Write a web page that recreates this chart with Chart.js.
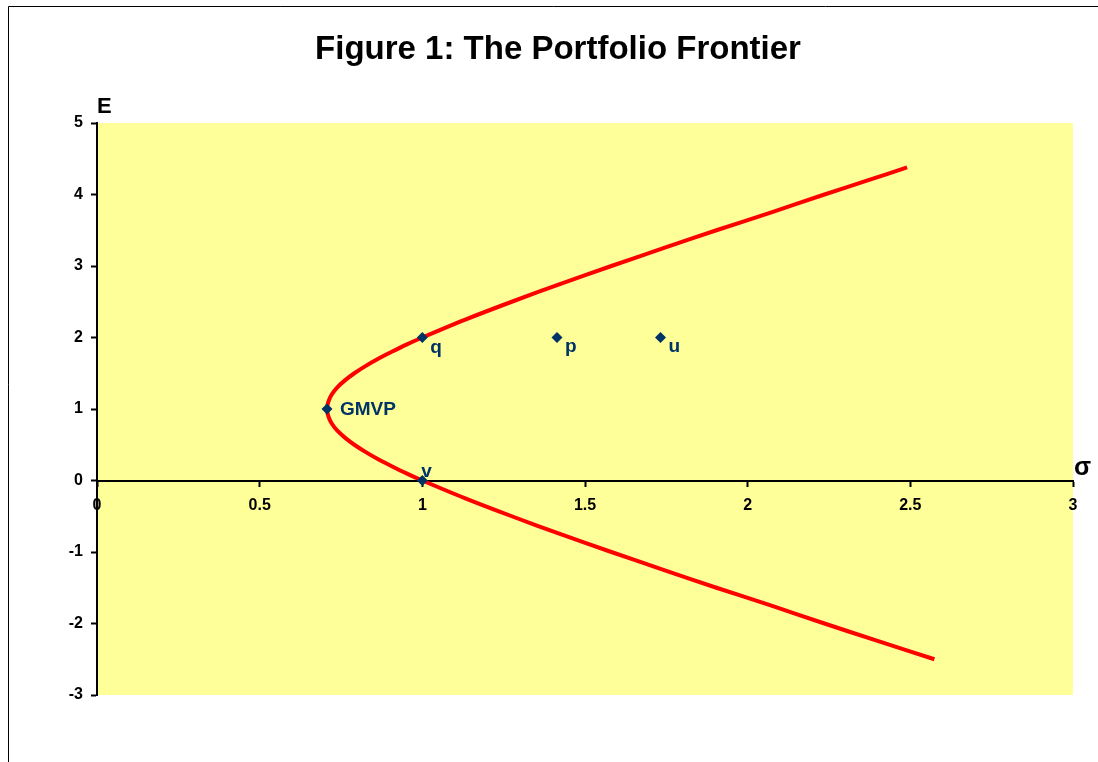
<!DOCTYPE html>
<html>
<head>
<meta charset="utf-8">
<title>The Portfolio Frontier</title>
<script src="https://cdn.jsdelivr.net/npm/chart.js@4.4.0/dist/chart.umd.min.js"></script>
<style>
    html, body { margin: 0; padding: 0; background: #ffffff; }
    #wrap { width: 1098px; height: 762px; }
</style>
</head>
<body>
<div id="wrap"><canvas id="frontierChart" width="1098" height="762"></canvas></div>
<script>
// Frontier curve, top end to bottom end
const frontierE = [
    4.38, 4.2, 4.0, 3.75, 3.5, 3.25, 3.0, 2.75, 2.5, 2.25, 2.0, 1.9, 1.8, 1.7, 1.6, 1.5, 1.4, 1.3, 1.2, 1.1, 1.0,
    0.9, 0.8, 0.7, 0.6, 0.5, 0.4, 0.3, 0.2, 0.1, 0.0, -0.25, -0.5, -0.75, -1.0, -1.25, -1.5, -1.75, -2.0, -2.25, -2.5
];
const frontierSigma = [
    2.490, 2.371, 2.236, 2.073, 1.904, 1.741, 1.581, 1.425, 1.275, 1.132, 1.000, 0.951, 0.906, 0.863, 0.825, 0.791, 0.762, 0.738, 0.721, 0.711, 0.707,
    0.711, 0.721, 0.738, 0.762, 0.791, 0.825, 0.863, 0.906, 0.951, 1.000, 1.132, 1.275, 1.425, 1.581, 1.741, 1.904, 2.073, 2.236, 2.404, 2.574
];

// Marked portfolios
const pointNames = ['q', 'p', 'u', 'GMVP', 'v'];
const pointSigma = [1.0, 1.414, 1.732, 0.707, 1.0];
const pointE     = [2, 2, 2, 1, 0];

// Axes
const xMin = 0, xMax = 3, xStep = 0.5;
const yMin = -3, yMax = 5, yStep = 1;
const xAxisName = 'σ';
const yAxisName = 'E';
const chartTitle = 'Figure 1: The Portfolio Frontier';

const FONT = "'Liberation Sans', Arial, sans-serif";
const NAVY = '#003366';

// where each point's name sits relative to its marker
const labelOffsets = {
    q: [8, 15],
    p: [8, 14],
    u: [8, 14],
    GMVP: [13, 6],
    v: [-1, -4]
};

// yellow plot area + the outer frame
const backdrop = {
    id: 'backdrop',
    beforeDraw(chart) {
        const { ctx, chartArea } = chart;
        ctx.save();
        ctx.fillStyle = '#ffffff';
        ctx.fillRect(0, 0, chart.width, chart.height);
        ctx.fillStyle = '#FFFF99';
        ctx.fillRect(chartArea.left, chartArea.top, chartArea.right - chartArea.left, chartArea.bottom - chartArea.top);
        ctx.strokeStyle = '#000000';
        ctx.lineWidth = 1;
        ctx.beginPath();
        ctx.moveTo(8.5, chart.height);
        ctx.lineTo(8.5, 6.5);
        ctx.lineTo(chart.width, 6.5);
        ctx.stroke();
        ctx.restore();
    }
};

// point names and the axis letters
const annotations = {
    id: 'annotations',
    afterDatasetsDraw(chart) {
        const { ctx, chartArea, scales } = chart;
        ctx.save();
        ctx.textAlign = 'left';
        ctx.textBaseline = 'alphabetic';
        ctx.fillStyle = NAVY;
        ctx.font = `bold 19px ${FONT}`;
        pointNames.forEach((name, i) => {
            const px = scales.x.getPixelForValue(pointSigma[i]);
            const py = scales.y.getPixelForValue(pointE[i]);
            const off = labelOffsets[name] || [8, 14];
            ctx.fillText(name, px + off[0], py + off[1]);
        });

        ctx.fillStyle = '#000000';
        ctx.font = `bold 22px ${FONT}`;
        ctx.fillText(yAxisName, chartArea.left, chartArea.top - 10);
        ctx.font = `bold 25px ${FONT}`;
        ctx.fillText(xAxisName, chartArea.right + 1, scales.y.getPixelForValue(0) - 6);
        ctx.restore();
    }
};

const frontierData = frontierSigma.map((s, i) => ({ x: s, y: frontierE[i] }));
const pointData = pointSigma.map((s, i) => ({ x: s, y: pointE[i] }));

new Chart(document.getElementById('frontierChart'), {
    type: 'scatter',
    data: {
        datasets: [
            {
                label: 'Points',
                data: pointData,
                pointStyle: 'rectRot',
                pointRadius: 5.5,
                backgroundColor: NAVY,
                borderColor: NAVY,
                borderWidth: 0,
                order: 0
            },
            {
                label: 'Frontier',
                data: frontierData,
                showLine: true,
                borderColor: '#FF0000',
                borderWidth: 4,
                pointRadius: 0,
                tension: 0.3,
                order: 1
            }
        ]
    },
    options: {
        responsive: false,
        animation: false,
        layout: { padding: { left: 43, right: 25, top: 0, bottom: 67 } },
        scales: {
            x: {
                type: 'linear',
                min: xMin,
                max: xMax,
                position: { y: 0 },
                ticks: {
                    stepSize: xStep,
                    color: '#000000',
                    padding: 10,
                    font: { family: FONT, size: 16, weight: 'bold' },
                    callback: v => String(v)
                },
                grid: { drawOnChartArea: false, tickLength: 5, color: '#000000', tickWidth: 2 },
                border: { display: true, color: '#000000', width: 2 }
            },
            y: {
                type: 'linear',
                min: yMin,
                max: yMax,
                position: 'left',
                ticks: {
                    stepSize: yStep,
                    color: '#000000',
                    padding: 8,
                    font: { family: FONT, size: 16, weight: 'bold' }
                },
                grid: { drawOnChartArea: false, tickLength: 6, color: '#000000', tickWidth: 2 },
                border: { display: true, color: '#000000', width: 2 },
                afterFit: scale => { scale.width = 54; }
            }
        },
        plugins: {
            legend: { display: false },
            tooltip: { enabled: false },
            title: {
                display: true,
                text: chartTitle,
                color: '#000000',
                font: { family: FONT, size: 33, weight: 'bold' },
                padding: { top: 30.2, bottom: 53.2 }
            }
        }
    },
    plugins: [backdrop, annotations]
});
</script>
</body>
</html>
